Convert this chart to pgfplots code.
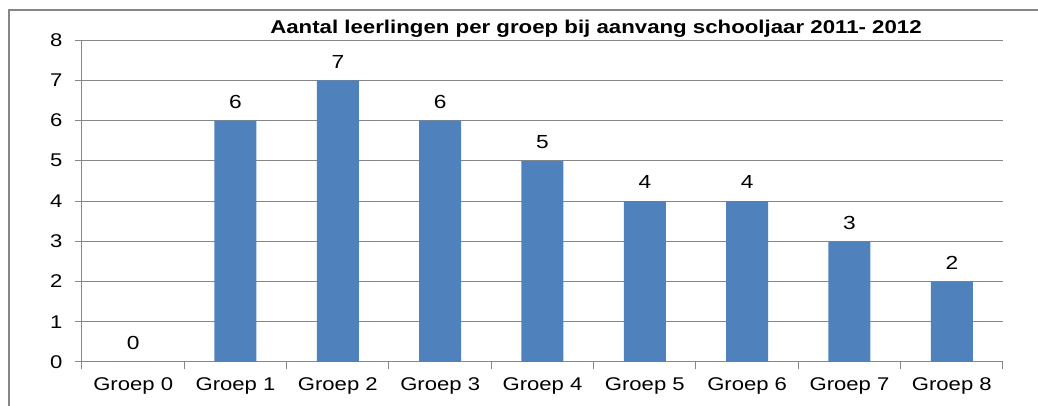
\documentclass[border=0pt]{standalone}
\usepackage{fontspec}
\setmainfont{Liberation Sans}[FakeStretch=1.2]
\usepackage{pgfplots}
\pgfplotsset{compat=1.18}
\definecolor{barblue}{HTML}{4F81BD}
\definecolor{axgray}{HTML}{868686}
\begin{document}
\begin{tikzpicture}
\useasboundingbox (-61.5pt,-33pt) rectangle (717pt,271.5pt);
\draw[axgray, line width=0.9pt] (-54.75pt,-40pt) -- (-54.75pt,264pt) -- (725pt,264pt);
\begin{axis}[
  at={(0pt,0pt)}, anchor=south west,
  scale only axis,
  width=690.75pt, height=241.5pt,
  xmin=-0.5, xmax=8.5, ymin=0, ymax=8,
  ytick={0,...,8},
  xtick={-0.5,0.5,...,8.5},
  xticklabels={Groep 0,Groep 1,Groep 2,Groep 3,Groep 4,Groep 5,Groep 6,Groep 7,Groep 8},
  x tick label as interval,
  axis x line*=bottom, axis y line*=left,
  axis line style={axgray, line width=0.75pt},
  tick style={axgray, line width=0.75pt},
  tick align=outside, major tick length=5.25pt,
  ymajorgrids, grid style={axgray, line width=0.75pt},
  /pgf/number format/assume math mode=true,
  tick label style={font=\fontsize{13.8pt}{15pt}\selectfont, black},
  yticklabel style={xshift=-6pt},
  xticklabel style={yshift=-3pt},
  ybar, bar width=31.5pt,
  nodes near coords,
  nodes near coords style={font=\fontsize{14.2pt}{15pt}\selectfont, black, yshift=5.5pt},
  clip=false,
]
\addplot[fill=barblue, draw=none] coordinates {(0,0) (1,6) (2,7) (3,6) (4,5) (5,4) (6,4) (7,3) (8,2)};
\end{axis}
\node[font=\bfseries\fontsize{13.9pt}{15pt}\selectfont] at (385.5pt,250pt) {Aantal leerlingen per groep bij aanvang schooljaar 2011- 2012};
\end{tikzpicture}
\end{document}
